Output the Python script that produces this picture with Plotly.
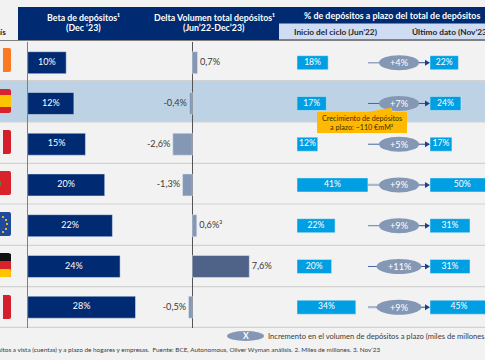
import plotly.graph_objects as go

countries = ["Irlanda", "España", "Italia", "Portugal", "Zona euro", "Alemania", "Francia"]
beta = [10, 12, 15, 20, 22, 24, 28]
delta = [0.7, -0.4, -2.6, -1.3, 0.6, 7.6, -0.5]
delta_labels = ["0,7%", "-0,4%", "-2,6%", "-1,3%", "0,6%³", "7,6%", "-0,5%"]
start = [18, 17, 12, 41, 22, 20, 34]
end = [22, 24, 17, 50, 31, 31, 45]
growth = ["+4%", "+7%", "+5%", "+9%", "+9%", "+11%", "+9%"]
rows = list(range(len(countries)))

W, H = 485, 360
NAVY = "#002b73"
SKY = "#009fe3"
SLATE = "#8497b5"
DARKSLATE = "#4f6288"
BG = "#f2f2f2"
TXT = "#3a3a3a"
FONT = "Lato"
ROW0, ROWH = 62.7, 40.75


def px(x):
    return x / W


def py(y):
    return 1 - y / H


def dom(a, b):
    return [px(a), px(b)]


fig = go.Figure()

# bars
fig.add_bar(x=beta, y=rows, orientation="h", width=0.54, marker_color=NAVY, xaxis="x", yaxis="y", hovertext=countries)
fig.add_scatter(x=[v / 2 for v in beta], y=rows, mode="text", text=[f"{v}%" for v in beta],
                textfont=dict(color="white", size=9, family=FONT), xaxis="x", yaxis="y")

fig.add_bar(x=delta, y=rows, orientation="h", width=0.54,
            marker_color=[DARKSLATE if v > 5 else SLATE for v in delta], xaxis="x2", yaxis="y", hovertext=countries)
fig.add_scatter(x=delta, y=rows, mode="text",
                text=[("\u00a0" + t) if v > 0 else (t + "\u00a0") for t, v in zip(delta_labels, delta)],
                textposition=["middle right" if v > 0 else "middle left" for v in delta],
                textfont=dict(color=TXT, size=9.2, family=FONT), xaxis="x2", yaxis="y", cliponaxis=False)

fig.add_bar(x=start, y=rows, orientation="h", width=0.345, marker_color=SKY, xaxis="x3", yaxis="y", hovertext=countries)
fig.add_scatter(x=[v / 2 for v in start], y=rows, mode="text", text=[f"{v}%" for v in start],
                textfont=dict(color="white", size=8.6, family=FONT), xaxis="x3", yaxis="y", cliponaxis=False)

fig.add_bar(x=end, y=rows, orientation="h", width=0.345, marker_color=SKY, xaxis="x4", yaxis="y", hovertext=countries)
fig.add_scatter(x=[v / 2 for v in end], y=rows, mode="text", text=[f"{v}%" for v in end],
                textfont=dict(color="white", size=8.6, family=FONT), xaxis="x4", yaxis="y", cliponaxis=False)

shapes = []


def rect(x0, y0, x1, y1, color, layer="below"):
    shapes.append(dict(type="rect", xref="paper", yref="paper", x0=px(x0), x1=px(x1), y0=py(y0), y1=py(y1),
                       fillcolor=color, line_width=0, layer=layer))


# background bands and header
rect(0, 81, W, 122, "#bdd3e5")
rect(18, 7, W, 40, NAVY)
rect(279, 23.5, W, 39.5, "#cfdcf3")
shapes.append(dict(type="line", xref="paper", yref="paper", x0=0, x1=1, y0=py(40.5), y1=py(40.5),
                   line=dict(color="#808080", width=1), layer="below"))
for sep in [80.7, 121.8, 163.3, 204, 245.3, 286.7, 327.3]:
    shapes.append(dict(type="line", xref="paper", yref="paper", x0=0, x1=1, y0=py(sep), y1=py(sep),
                       line=dict(color="#d2d2d2", width=1.2), layer="below"))


def flag(x0, y0, x1, y1, color):
    shapes.append(dict(type="path", xref="paper", yref="paper", fillcolor=color, line_width=0, layer="above",
                       path=(f"M{px(x0)},{py(y0)} L{px(x1 - 2)},{py(y0)} Q{px(x1)},{py(y0)} {px(x1)},{py(y0 + 2)} "
                             f"L{px(x1)},{py(y1 - 2)} Q{px(x1)},{py(y1)} {px(x1 - 2)},{py(y1)} L{px(x0)},{py(y1)} Z")))


flag(3, 48, 11, 72, "#f97a22")
flag(-2, 89, 11, 113, "#d8222c")
rect(0, 95, 11, 107, "#ffc400", "above")
flag(3, 130, 11, 154, "#d41f2c")
flag(-2, 171, 11, 195, "#d8222c")
rect(0, 181, 1, 186, "#6d7a2a", "above")
flag(-2, 212, 11, 236, "#1f4a9c")
for sx, sy in [(3, 217), (6, 220), (7, 224), (6, 229), (3, 232)]:
    rect(sx - 1, sy - 1, sx + 1, sy + 1, "#e0b12e", "above")
flag(-2, 253, 11, 277, "#d8222c")
rect(0, 253, 9, 261, "#111111", "above")
rect(9, 254, 11, 261, "#111111", "above")
flag(-2, 269, 11, 277, "#ffc400")
flag(3, 295, 11, 319, "#d41f2c")

# arrows and ovals
line_cols = ["#94a6c2", "#44659f", "#44659f", "#a9b8cf", "#5f7bae", "#44659f", "#a9b8cf"]
line_w = [1.6, 1, 1, 2.2, 1, 1, 2.2]
for r in rows:
    rx = 22.5 if r >= 5 else 20
    cx = 399
    shapes.append(dict(type="line", xref="paper", yref="y", x0=px(368), x1=px(cx - rx + 1), y0=r, y1=r,
                       line=dict(color=line_cols[r], width=line_w[r]), layer="above"))
    shapes.append(dict(type="line", xref="paper", yref="y", x0=px(cx + rx - 1), x1=px(426), y0=r, y1=r,
                       line=dict(color="#2f4f94", width=1), layer="above"))
    yc = ROW0 + ROWH * r
    shapes.append(dict(type="path", xref="paper", yref="paper", fillcolor="#1f3f88", line_width=0, layer="above",
                       path=f"M{px(425)},{py(yc - 3)} L{px(430)},{py(yc)} L{px(425)},{py(yc + 3)} Z"))
    shapes.append(dict(type="circle", xref="paper", yref="y", x0=px(cx - rx), x1=px(cx + rx), y0=r - 0.185, y1=r + 0.185,
                       fillcolor=SLATE, line_width=0, layer="above"))

# callout
rect(317, 112, 407, 133, "#ffb900", "above")
shapes.append(dict(type="path", xref="paper", yref="paper", fillcolor="#ffb900", line_width=0, layer="above",
                   path=f"M{px(368)},{py(112)} L{px(392)},{py(107.5)} L{px(392)},{py(112)} Z"))

# legend oval
shapes.append(dict(type="circle", xref="paper", yref="paper", x0=px(227), x1=px(264), y0=py(331), y1=py(341),
                   fillcolor=SLATE, line_width=0, layer="above"))


def note(x, y, text, color=TXT, size=9, bold=False, anchor="center"):
    return dict(xref="paper", yref="paper", x=px(x), y=py(y), text=f"<b>{text}</b>" if bold else text,
                showarrow=False, xanchor=anchor, yanchor="middle", align="center",
                font=dict(color=color, size=size, family=FONT))


annotations = [
    note(8, 32, "País", "#262626", 8.2, True, "right"),
    note(83, 17, "Beta de depósitos¹", "white", 8.8, True),
    note(83, 28, "(Dec ‘23)", "white", 8.8, True),
    note(214, 17, "Delta Volumen total depósitos¹", "white", 8.8, True),
    note(214, 28, "(Jun’22-Dec’23)", "white", 8.8, True),
    note(392, 16, "% de depósitos a plazo del total de depósitos", "white", 8.9, True),
    note(335.5, 32, "Inicio del ciclo (Jun’22)", "#262626", 8.3, True),
    note(410, 32, "Último dato (Nov’23)", "#262626", 8.3, True, "left"),
    note(362, 118.5, "Crecimiento de depósitos", "#3a3000", 7.2),
    note(362, 127.5, "a plazo: ~110 €mM²", "#3a3000", 7.2),
    note(245.5, 336, "X", "white", 8.5, True),
    note(266, 336, "Incremento en el volumen de depósitos a plazo (miles de millones de €)", TXT, 7.6, False, "left"),
    note(381.5, 349.5, "1. Depósitos a vista (cuentas) y a plazo de hogares y empresas.  Fuente: BCE, Autonomous, "
                       "Oliver Wyman análisis. 2. Miles de millones. 3. Nov’23", TXT, 6.4, False, "right"),
]
for r, g in zip(rows, growth):
    annotations.append(dict(xref="paper", yref="y", x=px(399), y=r, text=g, showarrow=False,
                            xanchor="center", yanchor="middle",
                            font=dict(color="white", size=9.2, family=FONT)))

hidden = dict(visible=False, fixedrange=True)
ytop = ROW0 - ROWH / 2
ybot = ROW0 + ROWH * 6.5
fig.update_layout(
    width=W, height=H, margin=dict(l=0, r=0, t=0, b=0), autosize=False,
    paper_bgcolor=BG, plot_bgcolor="rgba(0,0,0,0)", showlegend=False, barmode="overlay",
    shapes=shapes, annotations=annotations,
    yaxis=dict(domain=[py(ybot), py(ytop)], range=[6.5, -0.5], visible=False, fixedrange=True),
    xaxis=dict(domain=dom(27.7, 160), range=[0, 132.3 / 3.85], zeroline=True, zerolinecolor="#7f7f7f", zerolinewidth=1.4,
               showgrid=False, showticklabels=False, ticks="", fixedrange=True),
    xaxis2=dict(domain=dom(160, 285), range=[-32.3 / 7.5, 92.7 / 7.5], zeroline=True, zerolinecolor="#555555",
                zerolinewidth=1, showgrid=False, showticklabels=False, ticks="", anchor="y",
                fixedrange=True),
    xaxis3=dict(domain=dom(297, 380), range=[0, 83 / 1.73], anchor="y", **hidden),
    xaxis4=dict(domain=dom(430, 485), range=[0, 55 / 1.29], anchor="y", **hidden),
)
fig.write_html("out.html", config=dict(displayModeBar=False),
               post_script="document.body.style.margin='0';document.body.style.overflow='hidden';")
